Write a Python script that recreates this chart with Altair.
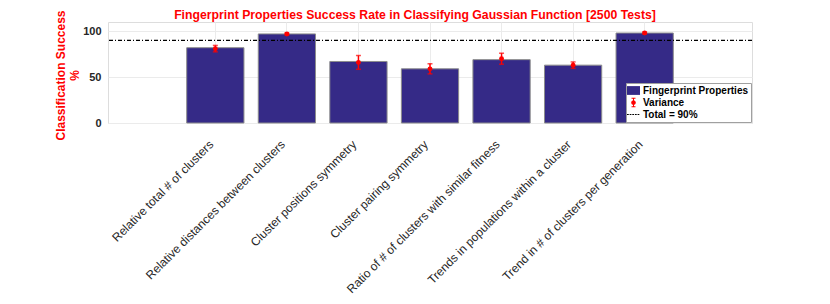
import altair as alt
import pandas as pd

categories = [
    "Relative total # of clusters",
    "Relative distances between clusters",
    "Cluster positions symmetry",
    "Cluster pairing symmetry",
    "Ratio of # of clusters with similar fitness",
    "Trends in populations within a cluster",
    "Trend in # of clusters per generation",
]
success = [82, 97, 67, 59, 69, 63, 98]
variance_mean = [81, 97, 66, 59, 70, 63, 98]
variance_err = [3.5, 1, 7.5, 5.5, 6, 3.5, 1]
total_level = [90]

legend_items = ["Fingerprint Properties", "Variance", "Total = 90%", "Variance marker"]
legend_colors = ["#352a87", "#ff0000", "#000000", "#ff0000"]
legend_shapes = [
    "M-1.18,-0.8H1.18V0.8H-1.18Z",
    "M0.42,0A0.42,0.42 0 1,1 -0.42,0A0.42,0.42 0 1,1 0.42,0Z"
    "M-0.09,-0.8H0.09V0.8H-0.09Z"
    "M-0.36,-0.86H0.36V-0.7H-0.36Z"
    "M-0.36,0.7H0.36V0.86H-0.36Z",
    "M-1.18,-0.09H-0.86V0.09H-1.18Z"
    "M-0.7,-0.09H-0.38V0.09H-0.7Z"
    "M-0.22,-0.09H0.1V0.09H-0.22Z"
    "M0.26,-0.09H0.58V0.09H0.26Z"
    "M0.74,-0.09H1.06V0.09H0.74Z",
    "circle",
]

df = pd.DataFrame({
    "category": categories,
    "success": success,
    "mean": variance_mean,
    "err": variance_err,
})
df["lo"] = df["mean"] - df["err"]
df["hi"] = df["mean"] + df["err"]
df["series"] = "Variance marker"

FONT = "Liberation Sans"

x_axis = alt.Axis(
    title=None, labelAngle=-45, labelAlign="right", labelBaseline="middle",
    labelPadding=19, labelOffset=-4, labelLimit=0, labelFontSize=12,
    labelColor="#262626", labelFont=FONT, ticks=False, domain=False, grid=True,
    gridColor="#ebebeb", labelOverlap=False,
)
x_scale = alt.Scale(domain=categories, paddingInner=0, paddingOuter=1)
y_scale = alt.Scale(domain=[0, 110], nice=False)
y_axis = alt.Axis(
    title=["Classification Success", "%"], titleColor="#ff0000",
    titleFontSize=12, titleFontWeight="bold", titleFont=FONT, titlePadding=1,
    titleLineHeight=14.5, titleY=53,
    values=[0, 50, 100], labelFontSize=11, labelFontWeight="bold",
    labelColor="#262626", labelFont=FONT, labelPadding=7, ticks=False,
    domain=False, grid=True, gridColor="#ebebeb",
)


def xe():
    return alt.X("category:N", sort=categories, scale=x_scale, axis=x_axis)


def ye(field):
    return alt.Y(field, scale=y_scale, axis=y_axis)


base = alt.Chart(df)

bars = base.mark_bar(
    color="#352a87", stroke="#8c8c8c", strokeWidth=1,
    width=alt.RelativeBandSize(0.8),
).encode(x=xe(), y=ye("success:Q"))

total = alt.Chart(pd.DataFrame({"level": total_level})).mark_rule(
    color="black", strokeWidth=1.2, strokeDash=[4, 2, 1, 2]
).encode(y=ye("level:Q"))

errbars = base.mark_errorbar(
    ticks=alt.MarkConfig(size=5, color="#ff0000", strokeWidth=1.5),
    color="#ff0000", thickness=1.5,
).encode(x=xe(), y=ye("lo:Q"), y2="hi:Q")

leg = alt.Legend(
    title=None, values=legend_items[:3], orient="bottom-right", offset=1,
    fillColor="white", strokeColor="#a0a0a0", padding=2, rowPadding=1,
    labelFontSize=10, labelFontWeight="bold", labelFont=FONT, labelColor="#000000",
    symbolSize=121, symbolStrokeWidth=0, labelOffset=4, symbolOpacity=1,
)

points = base.mark_point(filled=True, size=24, opacity=1).encode(
    x=xe(),
    y=ye("mean:Q"),
    color=alt.Color("series:N", scale=alt.Scale(domain=legend_items, range=legend_colors), legend=leg),
    shape=alt.Shape("series:N", scale=alt.Scale(domain=legend_items, range=legend_shapes), legend=leg),
)

chart = alt.layer(bars, total, errbars, points).properties(
    width=644,
    height=101,
    title=alt.TitleParams(
        "Fingerprint Properties Success Rate in Classifying Gaussian Function [2500 Tests]",
        color="#ff0000", fontSize=12.25, fontWeight="bold", font=FONT, offset=0,
        dy=11.5, dx=-15, frame="group", anchor="middle",
    ),
    padding={"left": 100, "top": 14, "right": 70, "bottom": 173},
    autosize=alt.AutoSizeParams(type="none"),
).configure_view(stroke="#8c8c8c").configure(background="white")

chart.save("out.html", embed_options={"renderer": "svg", "actions": False})
